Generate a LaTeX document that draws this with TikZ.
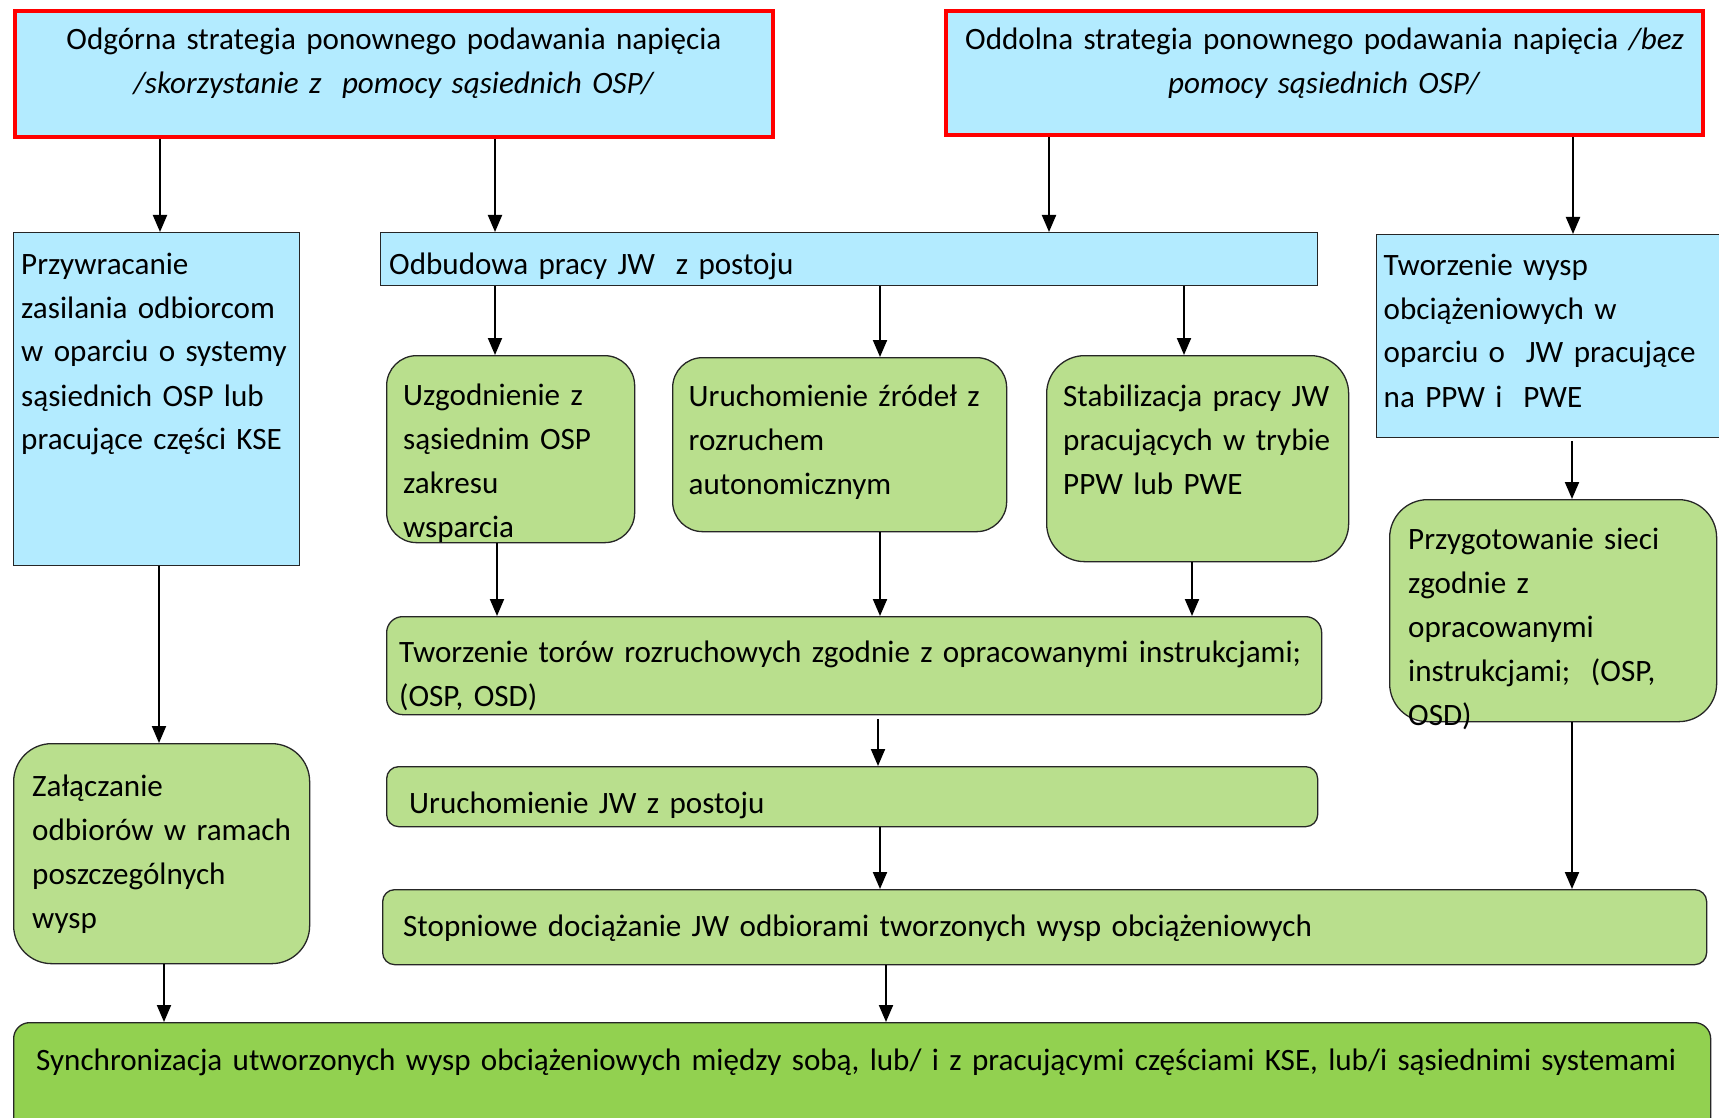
\documentclass[tikz,border=0pt]{standalone}
\usepackage{fontspec}
\setmainfont{Carlito}
\usetikzlibrary{arrows.meta}
\definecolor{boxblue}{RGB}{179,235,255}
\definecolor{boxgreen}{RGB}{185,223,141}
\definecolor{syngreen}{RGB}{146,209,80}
\tikzset{
  bluebox/.style={draw=black!85, line width=1.3pt, fill=boxblue, anchor=north west, inner sep=0pt},
  redbox/.style={bluebox, draw=red, line width=4pt},
  greenbox/.style={bluebox, fill=boxgreen, rounded corners=#1},
  greenbox/.default=30pt,
  txt/.style={anchor=base west, align=left, text width=1900pt, inner sep=0pt, font=\fontsize{31.1}{44}\selectfont},
  toptxt/.style={txt, anchor=base, align=center, text width=740pt},
  arr/.style={-{Triangle[length=17pt,width=14pt]}, line width=2pt}
}
\begin{document}
\begin{tikzpicture}[x=1pt,y=-1pt]
  \useasboundingbox (0,0) rectangle (1719,1118);
  % boxes
  \node[redbox, minimum width=758pt, minimum height=126pt] (top1) at (13,9) {};
  \node[redbox, minimum width=757pt, minimum height=124pt] (top2) at (944,9) {};
  \node[bluebox, minimum width=286pt, minimum height=333pt] (prz) at (13,232) {};
  \node[bluebox, minimum width=937pt, minimum height=53pt] (odb) at (380,232) {};
  \node[bluebox, minimum width=360pt, minimum height=203pt] (two) at (1376,234) {};
  \node[greenbox, minimum width=248pt, minimum height=187pt] (uzg) at (386,355) {};
  \node[greenbox, minimum width=334pt, minimum height=174pt] (uru) at (672,357) {};
  \node[greenbox=38pt, minimum width=302pt, minimum height=206pt] (stab) at (1046,355) {};
  \node[greenbox=38pt, minimum width=327pt, minimum height=222pt] (przyg) at (1389,499) {};
  \node[greenbox=16pt, minimum width=935pt, minimum height=98pt] (tor) at (386,616) {};
  \node[greenbox=12pt, minimum width=931pt, minimum height=60pt] (urjw) at (386,766) {};
  \node[greenbox=12pt, minimum width=1324pt, minimum height=75pt] (stop) at (382,889) {};
  \node[greenbox=38pt, minimum width=296pt, minimum height=220pt] (zal) at (13,743) {};
  \node[greenbox=16pt, fill=syngreen, minimum width=1697pt, minimum height=130pt] (syn) at (13,1022) {};
  % texts
  \node[toptxt] (top1-t) at ([shift={(0,41)}]top1.north) {Odgórna strategia ponownego podawania napięcia\\\textit{/skorzystanie z\ \ pomocy sąsiednich OSP/}};
  \node[toptxt] (top2-t) at ([shift={(0,41)}]top2.north) {Oddolna strategia ponownego podawania napięcia \textit{/bez}\\\textit{pomocy sąsiednich OSP/}};
  \node[txt] (prz-t) at ([shift={(8,42)}]prz.north west) {Przywracanie\\zasilania odbiorcom\\w oparciu o systemy\\sąsiednich OSP lub\\pracujące części KSE};
  \node[txt] (odb-t) at ([shift={(9,42)}]odb.north west) {Odbudowa pracy JW\ \ z postoju};
  \node[txt] (two-t) at ([shift={(7.5,41)}]two.north west) {Tworzenie wysp\\obciążeniowych w\\oparciu o\ \ JW pracujące\\na PPW i\ \ PWE};
  \node[txt] (uzg-t) at ([shift={(17,50.5)}]uzg.north west) {Uzgodnienie z\\sąsiednim OSP\\zakresu\\wsparcia};
  \node[txt] (uru-t) at ([shift={(16.5,49.5)}]uru.north west) {Uruchomienie źródeł z\\rozruchem\\autonomicznym};
  \node[txt] (stab-t) at ([shift={(17,51.5)}]stab.north west) {Stabilizacja pracy JW\\pracujących w trybie\\PPW lub PWE};
  \node[txt] (przyg-t) at ([shift={(19,50.5)}]przyg.north west) {Przygotowanie sieci\\zgodnie z\\opracowanymi\\instrukcjami;\ \ (OSP,\\OSD)};
  \node[txt] (tor-t) at ([shift={(13,46.5)}]tor.north west) {Tworzenie torów rozruchowych zgodnie z opracowanymi instrukcjami;\\(OSP, OSD)};
  \node[txt] (urjw-t) at ([shift={(23,47)}]urjw.north west) {Uruchomienie JW z postoju};
  \node[txt] (stop-t) at ([shift={(21,47.5)}]stop.north west) {Stopniowe dociążanie JW odbiorami tworzonych wysp obciążeniowych};
  \node[txt] (zal-t) at ([shift={(19,53.5)}]zal.north west) {Załączanie\\odbiorów w ramach\\poszczególnych\\wysp};
  \node[txt] (syn-t) at ([shift={(23,48)}]syn.north west) {Synchronizacja utworzonych wysp obciążeniowych między sobą, lub/ i z pracującymi częściami KSE, lub/i sąsiednimi systemami};
  % arrows
  \draw[arr] (top1.south -| 160,0) -- (prz.north -| 160,0);
  \draw[arr] (top1.south -| 495,0) -- (odb.north -| 495,0);
  \draw[arr] (top2.south -| 1049,0) -- (odb.north -| 1049,0);
  \draw[arr] (top2.south -| 1573,0) -- (two.north -| 1573,0);
  \draw[arr] (odb.south -| 495,0) -- (uzg.north -| 495,0);
  \draw[arr] (odb.south -| 880,0) -- (uru.north -| 880,0);
  \draw[arr] (odb.south -| 1184,0) -- (stab.north -| 1184,0);
  \draw[arr] (uzg.south -| 497,0) -- (tor.north -| 497,0);
  \draw[arr] (uru.south -| 880,0) -- (tor.north -| 880,0);
  \draw[arr] (stab.south -| 1192,0) -- (tor.north -| 1192,0);
  \draw[arr] ([yshift=-4pt]tor.south -| 878,0) -- (urjw.north -| 878,0);
  \draw[arr] (urjw.south -| 880,0) -- (stop.north -| 880,0);
  \draw[arr] (stop.south -| 886,0) -- (syn.north -| 886,0);
  \draw[arr] (prz.south -| 159,0) -- (zal.north -| 159,0);
  \draw[arr] (zal.south -| 164,0) -- (syn.north -| 164,0);
  \draw[arr] ([yshift=-3pt]two.south -| 1572,0) -- (przyg.north -| 1572,0);
  \draw[arr] (przyg.south -| 1572,0) -- (stop.north -| 1572,0);
\end{tikzpicture}
\end{document}
